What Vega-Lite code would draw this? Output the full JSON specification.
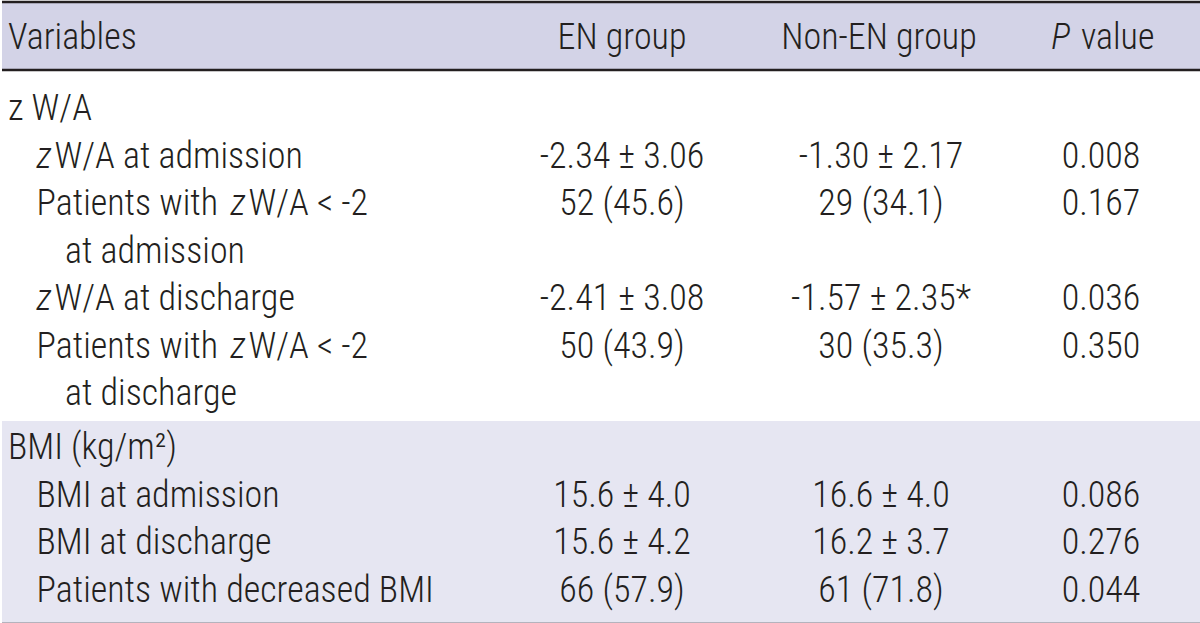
{
  "$schema": "https://vega.github.io/schema/vega-lite/v6.json",
  "padding": 0,
  "spacing": 0,
  "background": "white",
  "config": {
    "view": {"stroke": null},
    "text": {"font": "Roboto Condensed, Liberation Sans Narrow, Roboto", "fontSize": 36, "fontWeight": 300, "fill": "#231f20", "baseline": "middle"},
    "rule": {"color": "#231f20", "strokeWidth": 2.5}
  },
  "datasets": {
    "header": [
      {"col": 0, "level": 0, "text": "Variables", "it": ""},
      {"col": 1, "level": 0, "text": "EN group", "it": ""},
      {"col": 2, "level": 0, "text": "Non-EN group", "it": ""},
      {"col": 3, "level": 0, "text": "value", "it": "P"}
    ],
    "labels": [
      {"line": 1, "level": 0, "lead": "z W/A", "it": "", "tail": ""},
      {"line": 2, "level": 1, "lead": "", "it": "z", "tail": "W/A at admission"},
      {"line": 3, "level": 1, "lead": "Patients with ", "it": "z", "tail": "W/A < -2"},
      {"line": 4, "level": 2, "lead": "at admission", "it": "", "tail": ""},
      {"line": 5, "level": 1, "lead": "", "it": "z", "tail": "W/A at discharge"},
      {"line": 6, "level": 1, "lead": "Patients with ", "it": "z", "tail": "W/A  < -2"},
      {"line": 7, "level": 2, "lead": "at discharge", "it": "", "tail": ""},
      {"line": 8, "level": 0, "lead": "BMI (kg/m²)", "it": "", "tail": ""},
      {"line": 9, "level": 1, "lead": "BMI at admission", "it": "", "tail": ""},
      {"line": 10, "level": 1, "lead": "BMI at discharge", "it": "", "tail": ""},
      {"line": 11, "level": 1, "lead": "Patients with decreased BMI", "it": "", "tail": ""}
    ],
    "cells": [
      {"line": 2, "col": 1, "text": "-2.34 ± 3.06"},
      {"line": 2, "col": 2, "text": "-1.30 ± 2.17"},
      {"line": 2, "col": 3, "text": "0.008"},
      {"line": 3, "col": 1, "text": "52 (45.6)"},
      {"line": 3, "col": 2, "text": "29 (34.1)"},
      {"line": 3, "col": 3, "text": "0.167"},
      {"line": 5, "col": 1, "text": "-2.41 ± 3.08"},
      {"line": 5, "col": 2, "text": "-1.57 ± 2.35*"},
      {"line": 5, "col": 3, "text": "0.036"},
      {"line": 6, "col": 1, "text": "50 (43.9)"},
      {"line": 6, "col": 2, "text": "30 (35.3)"},
      {"line": 6, "col": 3, "text": "0.350"},
      {"line": 9, "col": 1, "text": "15.6 ± 4.0"},
      {"line": 9, "col": 2, "text": "16.6 ± 4.0"},
      {"line": 9, "col": 3, "text": "0.086"},
      {"line": 10, "col": 1, "text": "15.6 ± 4.2"},
      {"line": 10, "col": 2, "text": "16.2 ± 3.7"},
      {"line": 10, "col": 3, "text": "0.276"},
      {"line": 11, "col": 1, "text": "66 (57.9)"},
      {"line": 11, "col": 2, "text": "61 (71.8)"},
      {"line": 11, "col": 3, "text": "0.044"}
    ]
  },
  "vconcat": [
    {
      "width": 1200,
      "height": 68,
      "view": {"fill": "#d3d3e7", "stroke": null},
      "data": {"name": "header"},
      "layer": [
        {
          "data": {"values": [{}]},
          "mark": {"type": "rule"},
          "encoding": {"y": {"datum": 1, "type": "quantitative", "scale": {"domain": [0, 1], "nice": false}, "axis": null}}
        },
        {
          "data": {"values": [{}]},
          "mark": {"type": "rule"},
          "encoding": {"y": {"datum": 0, "type": "quantitative", "scale": {"domain": [0, 1], "nice": false}, "axis": null}}
        },
        {
          "transform": [{"filter": "datum.col == 0"}],
          "mark": {"type": "text", "align": "left", "dy": 2},
          "encoding": {
            "x": {"field": "level", "type": "quantitative", "scale": {"domain": [0, 2], "range": [6, 63], "nice": false, "zero": false}, "axis": null},
            "text": {"field": "text"}
          }
        },
        {
          "transform": [{"filter": "datum.col == 1 || datum.col == 2"}],
          "mark": {"type": "text", "align": "center", "dy": 2},
          "encoding": {
            "x": {"field": "col", "type": "quantitative", "scale": {"domain": [1, 2, 3], "range": [620, 877, 1098], "nice": false, "zero": false}, "axis": null},
            "text": {"field": "text"}
          }
        },
        {
          "transform": [{"filter": "datum.col == 3"}],
          "mark": {"type": "text", "align": "right", "dy": 2, "dx": -30, "fontStyle": "italic"},
          "encoding": {
            "x": {"field": "col", "type": "quantitative", "scale": {"domain": [1, 2, 3], "range": [620, 877, 1098], "nice": false, "zero": false}, "axis": null},
            "text": {"field": "it"}
          }
        },
        {
          "transform": [{"filter": "datum.col == 3"}],
          "mark": {"type": "text", "align": "left", "dy": 2, "dx": -19},
          "encoding": {
            "x": {"field": "col", "type": "quantitative", "scale": {"domain": [1, 2, 3], "range": [620, 877, 1098], "nice": false, "zero": false}, "axis": null},
            "text": {"field": "text"}
          }
        }
      ],
      "resolve": {"scale": {"x": "independent"}}
    },
    {
      "width": 1200,
      "height": 349,
      "layer": [
        {
          "data": {"name": "labels"},
          "transform": [{"filter": "datum.line <= 7"}],
          "mark": {"type": "text", "align": "left"},
          "encoding": {
            "x": {"field": "level", "type": "quantitative", "scale": {"domain": [0, 2], "range": [6, 63], "nice": false, "zero": false}, "axis": null},
            "y": {"field": "line", "type": "quantitative", "scale": {"domain": [0.221, 7.568], "reverse": true, "nice": false, "zero": false}, "axis": null},
            "text": {"field": "lead"}
          }
        },
        {
          "data": {"name": "labels"},
          "transform": [{"filter": "datum.line <= 7 && datum.it != '' && datum.lead == ''"}],
          "mark": {"type": "text", "align": "left", "fontStyle": "italic"},
          "encoding": {
            "x": {"field": "level", "type": "quantitative", "scale": {"domain": [0, 2], "range": [6, 63], "nice": false, "zero": false}, "axis": null},
            "y": {"field": "line", "type": "quantitative", "scale": {"domain": [0.221, 7.568], "reverse": true, "nice": false, "zero": false}, "axis": null},
            "text": {"field": "it"}
          }
        },
        {
          "data": {"name": "labels"},
          "transform": [{"filter": "datum.line <= 7 && datum.it != '' && datum.lead != ''"}],
          "mark": {"type": "text", "align": "left", "fontStyle": "italic", "dx": 194},
          "encoding": {
            "x": {"field": "level", "type": "quantitative", "scale": {"domain": [0, 2], "range": [6, 63], "nice": false, "zero": false}, "axis": null},
            "y": {"field": "line", "type": "quantitative", "scale": {"domain": [0.221, 7.568], "reverse": true, "nice": false, "zero": false}, "axis": null},
            "text": {"field": "it"}
          }
        },
        {
          "data": {"name": "labels"},
          "transform": [{"filter": "datum.line <= 7 && datum.it != '' && datum.lead == ''"}],
          "mark": {"type": "text", "align": "left", "dx": 18},
          "encoding": {
            "x": {"field": "level", "type": "quantitative", "scale": {"domain": [0, 2], "range": [6, 63], "nice": false, "zero": false}, "axis": null},
            "y": {"field": "line", "type": "quantitative", "scale": {"domain": [0.221, 7.568], "reverse": true, "nice": false, "zero": false}, "axis": null},
            "text": {"field": "tail"}
          }
        },
        {
          "data": {"name": "labels"},
          "transform": [{"filter": "datum.line <= 7 && datum.it != '' && datum.lead != ''"}],
          "mark": {"type": "text", "align": "left", "dx": 212},
          "encoding": {
            "x": {"field": "level", "type": "quantitative", "scale": {"domain": [0, 2], "range": [6, 63], "nice": false, "zero": false}, "axis": null},
            "y": {"field": "line", "type": "quantitative", "scale": {"domain": [0.221, 7.568], "reverse": true, "nice": false, "zero": false}, "axis": null},
            "text": {"field": "tail"}
          }
        },
        {
          "data": {"name": "cells"},
          "transform": [{"filter": "datum.line <= 7"}],
          "mark": {"type": "text", "align": "center"},
          "encoding": {
            "x": {"field": "col", "type": "quantitative", "scale": {"domain": [1, 2, 3], "range": [620, 879, 1099], "nice": false, "zero": false}, "axis": null},
            "y": {"field": "line", "type": "quantitative", "scale": {"domain": [0.221, 7.568], "reverse": true, "nice": false, "zero": false}, "axis": null},
            "text": {"field": "text"}
          }
        }
      ],
      "resolve": {"scale": {"x": "independent"}}
    },
    {
      "width": 1200,
      "height": 203,
      "view": {"fill": "#e6e6f2", "stroke": null},
      "layer": [
        {
          "data": {"values": [{}]},
          "mark": {"type": "rule"},
          "encoding": {"y": {"datum": 11.69, "type": "quantitative", "scale": {"domain": [7.434, 11.69], "reverse": true, "nice": false, "zero": false}, "axis": null}}
        },
        {
          "data": {"name": "labels"},
          "transform": [{"filter": "datum.line >= 8"}],
          "mark": {"type": "text", "align": "left"},
          "encoding": {
            "x": {"field": "level", "type": "quantitative", "scale": {"domain": [0, 2], "range": [6, 63], "nice": false, "zero": false}, "axis": null},
            "y": {"field": "line", "type": "quantitative", "scale": {"domain": [7.434, 11.69], "reverse": true, "nice": false, "zero": false}, "axis": null},
            "text": {"field": "lead"}
          }
        },
        {
          "data": {"name": "cells"},
          "transform": [{"filter": "datum.line >= 8"}],
          "mark": {"type": "text", "align": "center"},
          "encoding": {
            "x": {"field": "col", "type": "quantitative", "scale": {"domain": [1, 2, 3], "range": [620, 879, 1099], "nice": false, "zero": false}, "axis": null},
            "y": {"field": "line", "type": "quantitative", "scale": {"domain": [7.434, 11.69], "reverse": true, "nice": false, "zero": false}, "axis": null},
            "text": {"field": "text"}
          }
        }
      ],
      "resolve": {"scale": {"x": "independent"}}
    }
  ]
}
